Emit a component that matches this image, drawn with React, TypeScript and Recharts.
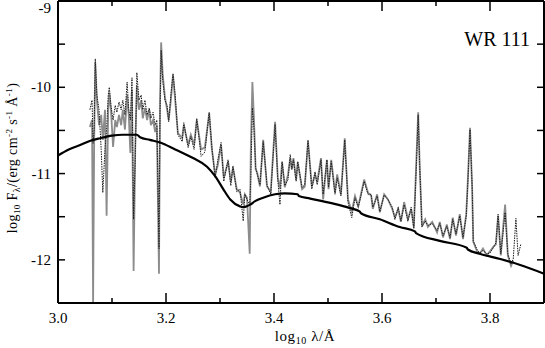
import * as React from 'react'
import { LineChart, XAxis, YAxis, Line, ReferenceLine } from 'recharts'

// continuum (model without lines)
const contLogLam = [3.0, 3.02, 3.041, 3.06, 3.078, 3.1, 3.12, 3.146, 3.152, 3.17, 3.189, 3.217, 3.25, 3.276, 3.291, 3.306, 3.319, 3.337, 3.343, 3.356, 3.365, 3.38, 3.402, 3.42, 3.444, 3.446, 3.467, 3.504, 3.541, 3.559, 3.561, 3.596, 3.633, 3.661, 3.663, 3.707, 3.757, 3.759, 3.781, 3.819, 3.856, 3.9]
const contFlux = [-10.79, -10.72, -10.67, -10.62, -10.59, -10.56, -10.55, -10.55, -10.58, -10.61, -10.64, -10.72, -10.82, -10.92, -11.03, -11.18, -11.3, -11.38, -11.39, -11.36, -11.32, -11.28, -11.24, -11.23, -11.24, -11.26, -11.29, -11.34, -11.4, -11.44, -11.46, -11.53, -11.62, -11.67, -11.69, -11.78, -11.86, -11.88, -11.93, -11.99, -12.06, -12.16]

// spectra: shared wavelength grid
const specLogLam = [
  3.059, 3.063, 3.065, 3.067, 3.069, 3.072, 3.076, 3.08, 3.083, 3.087,
  3.09, 3.093, 3.095, 3.098, 3.102, 3.106, 3.109, 3.113, 3.117, 3.12,
  3.124, 3.128, 3.131, 3.134, 3.137, 3.14, 3.143, 3.146, 3.15, 3.154,
  3.157, 3.161, 3.165, 3.169, 3.172, 3.176, 3.18, 3.183, 3.187, 3.189,
  3.191, 3.194, 3.198, 3.202, 3.205, 3.209, 3.213, 3.217, 3.222, 3.23,
  3.233, 3.241, 3.246, 3.252, 3.257, 3.265, 3.272, 3.28, 3.285, 3.291,
  3.296, 3.302, 3.307, 3.315, 3.32, 3.324, 3.331, 3.337, 3.343, 3.346,
  3.35, 3.355, 3.357, 3.36, 3.363, 3.366, 3.369, 3.374, 3.38, 3.387,
  3.394, 3.402, 3.407, 3.411, 3.415, 3.42, 3.426, 3.43, 3.433, 3.436,
  3.441, 3.444, 3.452, 3.457, 3.463, 3.47, 3.476, 3.48, 3.487, 3.491,
  3.498, 3.501, 3.506, 3.513, 3.517, 3.524, 3.531, 3.537, 3.544, 3.55,
  3.556, 3.561, 3.567, 3.574, 3.58, 3.583, 3.591, 3.596, 3.604, 3.611,
  3.619, 3.624, 3.63, 3.635, 3.641, 3.648, 3.654, 3.659, 3.663, 3.667,
  3.67, 3.674, 3.68, 3.685, 3.693, 3.702, 3.707, 3.713, 3.72, 3.726,
  3.731, 3.737, 3.744, 3.75, 3.756, 3.759, 3.763, 3.767, 3.769, 3.776,
  3.781, 3.787, 3.794, 3.8, 3.806, 3.811, 3.815, 3.82, 3.824, 3.828,
  3.833, 3.839, 3.843, 3.848, 3.852, 3.857,
]

// observed (grey)
const observedFlux: (number | null)[] = [
  -10.46, -10.38, -12.5, -10.61, -9.71, -10.15, -10.44, -10.32, -10.61, -10.26,
  -11.49, -10.26, -10.06, -10.26, -10.69, -10.38, -10.46, -10.32, -10.44, -10.26,
  -10.49, -10.09, -10.32, -10.76, -10.03, -12.13, -10.72, -9.98, -10.26, -10.15,
  -10.36, -10.24, -10.38, -10.26, -10.44, -10.38, -10.52, -10.44, -12.16, -10.15,
  -9.48, -9.86, -10.11, -10.26, -10.38, -10.15, -9.86, -10.15, -10.53, -10.59,
  -10.44, -10.67, -10.55, -10.67, -10.38, -10.72, -10.7, -10.3, -10.72, -11.01,
  -10.9, -10.67, -11.05, -10.86, -11.1, -10.93, -11.18, -11.22, -11.36, -11.24,
  -11.28, -11.93, -10.72, -9.94, -10.38, -10.95, -10.99, -11.15, -10.61, -11.15,
  -11.21, -10.4, -11.05, -11.18, -10.87, -11.16, -11.01, -10.82, -10.95, -10.82,
  -11.07, -10.87, -11.18, -11.15, -10.63, -11.15, -11.01, -11.1, -10.82, -11.3,
  -10.84, -11.18, -10.84, -11.22, -11.01, -11.24, -10.59, -11.3, -11.44, -11.26,
  -11.38, -11.24, -11.07, -11.22, -11.26, -11.41, -11.24, -11.45, -11.24, -11.3,
  -11.41, -11.51, -11.41, -11.56, -11.33, -11.53, -11.41, -11.62, -10.95, -10.29,
  -10.95, -11.61, -11.53, -11.62, -11.56, -11.68, -11.56, -11.74, -11.59, -11.76,
  -11.51, -11.72, -11.47, -11.76, -11.47, -11.07, -10.47, -11.18, -11.79, -11.9,
  -11.93, -11.87, -11.95, -11.9, -11.85, -11.82, -11.49, -11.95, -11.64, -11.36,
  -11.95, -12.07, -12.01, null, null, null,
]

// model (dotted)
const modelFlux = [
  -10.26, -10.15, -10.65, -10.49, -9.67, -10.09, -10.26, -10.72, -11.22, -10.72,
  -10.49, -10.09, -10.0, -10.21, -10.38, -10.21, -10.29, -10.17, -10.26, -10.15,
  -10.32, -9.94, -10.26, -10.38, -9.89, -11.53, -10.84, -9.83, -10.15, -10.09,
  -10.26, -10.15, -10.32, -10.24, -10.36, -10.29, -10.44, -10.38, -11.87, -10.26,
  -9.57, -9.92, -10.15, -10.21, -10.4, -10.09, -9.84, -10.09, -10.55, -10.63,
  -10.41, -10.7, -10.57, -10.72, -10.36, -10.8, -10.75, -10.29, -10.7, -11.05,
  -10.84, -10.64, -11.09, -10.84, -11.14, -10.91, -11.21, -11.18, -11.55, -11.24,
  -11.3, -11.36, -11.07, -10.24, -10.49, -10.93, -11.01, -11.13, -10.63, -11.13,
  -11.24, -10.43, -11.07, -11.36, -10.86, -11.14, -11.07, -10.78, -10.95, -10.84,
  -11.09, -10.86, -11.16, -11.13, -10.61, -11.18, -10.98, -11.13, -10.84, -11.24,
  -10.84, -11.16, -10.86, -11.24, -11.05, -11.26, -10.61, -11.33, -11.51, -11.28,
  -11.39, -11.26, -11.09, -11.24, -11.24, -11.39, -11.26, -11.44, -11.25, -11.3,
  -11.39, -11.53, -11.39, -11.55, -11.36, -11.55, -11.39, -11.64, -11.01, -10.32,
  -10.93, -11.62, -11.55, -11.6, -11.58, -11.66, -11.58, -11.72, -11.61, -11.74,
  -11.53, -11.7, -11.49, -11.74, -11.49, -11.1, -10.49, -11.15, -11.78, -11.88,
  -11.92, -11.89, -11.93, -11.92, -11.86, -11.8, -11.47, -11.93, -11.7, -11.45,
  -11.93, -12.05, -11.99, -11.52, -11.95, -11.82,
]

const xTicks = [3.0, 3.1, 3.2, 3.3, 3.4, 3.5, 3.6, 3.7, 3.8]
const xMajor = [3.0, 3.2, 3.4, 3.6, 3.8]
const yTicks = [-12.5, -12, -11.5, -11, -10.5, -10, -9.5, -9]
const yMajor = [-12, -11, -10, -9]

const X_MIN = 3.0
const X_MAX = 3.9
const Y_MIN = -12.5
const Y_MAX = -9

const continuum = contLogLam.map((x, i) => ({ x, y: contFlux[i] }))
const observed = specLogLam.map((x, i) => ({ x, y: observedFlux[i] }))
const model = specLogLam.map((x, i) => ({ x, y: modelFlux[i] }))

const serif = { fontFamily: 'Liberation Serif', fill: '#000' }

const isMajorX = (v: number) => xMajor.some((m) => Math.abs(m - v) < 1e-6)

// top tick lengths in data units (10px / 5px), right ticks 7px
const xTickLen = (v: number) => (isMajorX(v) ? 0.116 : 0.058)
const yTickLen = 0.013

const BottomTick = (props: any) => {
  const { x, y, payload } = props
  const major = isMajorX(payload.value)
  return (
    <g>
      <path d={`M${x},${y}L${x},${y - (major ? 10 : 5)}`} stroke="#000" strokeWidth={1.5} />
      {major && (
        <text x={x} y={y + 20} textAnchor="middle" fontSize={15} style={serif}>
          {payload.value.toFixed(1)}
        </text>
      )}
    </g>
  )
}

const LeftTick = (props: any) => {
  const { x, y, payload } = props
  const v = payload.value
  if (!yMajor.includes(v)) return <g />
  const dy = v === -9 ? 12 : 5
  return (
    <text x={x - 14} y={y + dy} textAnchor="end" fontSize={15} style={serif}>
      {v}
    </text>
  )
}

export default function App() {
  return (
    <div style={{ position: 'absolute', left: 0, top: 0 }}>
      <LineChart width={545} height={348} margin={{ top: 1, right: 1, left: 0, bottom: 0 }}>
        <XAxis
          type="number"
          dataKey="x"
          domain={[X_MIN, X_MAX]}
          ticks={xTicks}
          height={45}
          tickSize={0}
          tickMargin={0}
          tickLine={false}
          axisLine={{ stroke: '#000', strokeWidth: 2 }}
          tick={<BottomTick />}
          interval={0}
        />
        <YAxis
          type="number"
          domain={[Y_MIN, Y_MAX]}
          ticks={yTicks}
          width={58}
          tickSize={-7}
          tickMargin={0}
          tickLine={{ stroke: '#000', strokeWidth: 1.5 }}
          axisLine={{ stroke: '#000', strokeWidth: 2 }}
          tick={<LeftTick />}
          interval={0}
        />
        <Line
          data={observed}
          dataKey="y"
          type="linear"
          stroke="#8c8c8c"
          strokeWidth={1.8}
          dot={false}
          connectNulls={false}
          isAnimationActive={false}
        />
        <Line
          data={model}
          dataKey="y"
          type="linear"
          stroke="#1a1a1a"
          strokeWidth={1}
          strokeDasharray="1.5 1"
          dot={false}
          isAnimationActive={false}
        />
        <Line
          data={continuum}
          dataKey="y"
          type="monotone"
          stroke="#000"
          strokeWidth={2.2}
          dot={false}
          isAnimationActive={false}
        />
        <ReferenceLine y={Y_MAX} stroke="#000" strokeWidth={2} />
        <ReferenceLine x={X_MAX} stroke="#000" strokeWidth={2} />
        {xTicks.map((t) => (
          <ReferenceLine
            key={`t${t}`}
            segment={[{ x: t, y: Y_MAX }, { x: t, y: Y_MAX - xTickLen(t) }]}
            stroke="#000"
            strokeWidth={1.5}
          />
        ))}
        {yTicks.map((t) => (
          <ReferenceLine
            key={`r${t}`}
            segment={[{ x: X_MAX, y: t }, { x: X_MAX - yTickLen, y: t }]}
            stroke="#000"
            strokeWidth={1.5}
          />
        ))}
        <text x={530} y={46} textAnchor="end" fontSize={20} style={serif}>
          WR 111
        </text>
        <text x={305} y={341} textAnchor="middle" fontSize={15} style={serif} letterSpacing={0.6}>
          log<tspan fontSize={10} dy={3}>10</tspan>
          <tspan dy={-3}> λ/Å</tspan>
        </text>
        <text x={17} y={158} transform="rotate(-90 17 158)" textAnchor="middle" fontSize={14} style={serif} letterSpacing={0.4}>
          log<tspan fontSize={9} dy={3}>10</tspan>
          <tspan dy={-3}> F</tspan>
          <tspan fontSize={10} dy={3}>λ</tspan>
          <tspan dy={-3}>/(erg cm</tspan>
          <tspan fontSize={9} dy={-5}>-2</tspan>
          <tspan dy={5}> s</tspan>
          <tspan fontSize={9} dy={-5}>-1</tspan>
          <tspan dy={5}> Å</tspan>
          <tspan fontSize={9} dy={-5}>-1</tspan>
          <tspan dy={5}>)</tspan>
        </text>
      </LineChart>
    </div>
  )
}
